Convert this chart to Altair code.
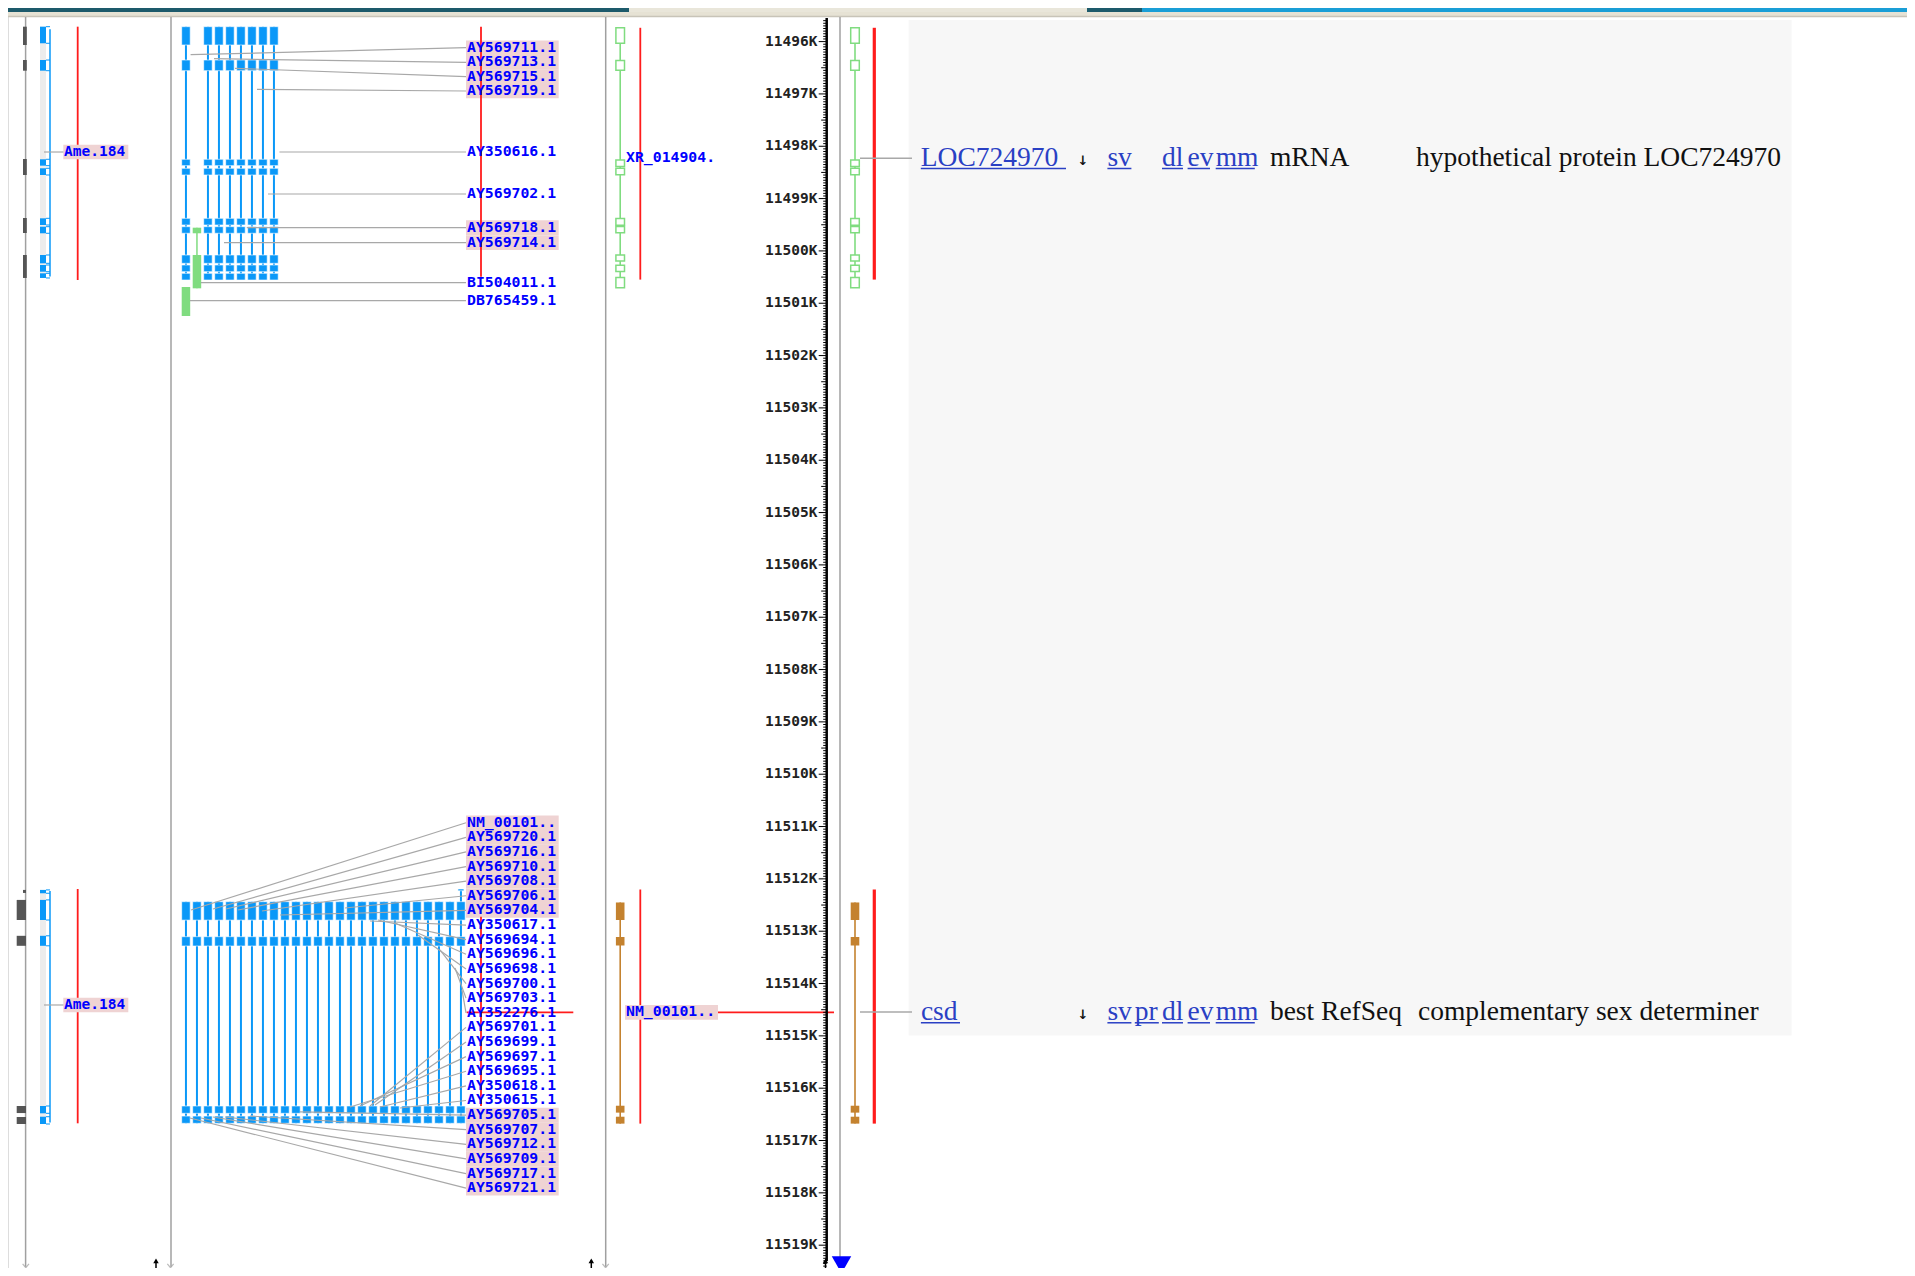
import altair as alt
import pandas as pd

# ====================== DATA (genome positions in kb) ======================
axis_ticks_k = [11496, 11497, 11498, 11499, 11500, 11501, 11502, 11503, 11504, 11505,
                11506, 11507, 11508, 11509, 11510, 11511, 11512, 11513, 11514, 11515,
                11516, 11517, 11518, 11519]

# LOC724970 (XR_014904.) exons
loc_exon_start = [11495.736, 11496.359, 11498.263, 11498.419, 11499.379, 11499.533, 11500.078, 11500.275, 11500.510]
loc_exon_end = [11496.032, 11496.547, 11498.387, 11498.544, 11499.510, 11499.652, 11500.193, 11500.391, 11500.705]
# csd (NM_00101..) exons
csd_exon_start = [11512.451, 11513.111, 11516.335, 11516.545]
csd_exon_end = [11512.786, 11513.273, 11516.467, 11516.677]

# EST / mRNA alignments, upper cluster
est_up_start = [11495.715, 11496.352, 11498.249, 11498.421, 11499.377, 11499.537, 11500.078, 11500.269, 11500.428]
est_up_end = [11496.065, 11496.556, 11498.371, 11498.549, 11499.505, 11499.663, 11500.237, 11500.397, 11500.556]
# EST / mRNA alignments, lower cluster
est_low_start = [11512.436, 11513.105, 11516.340, 11516.532]
est_low_end = [11512.788, 11513.283, 11516.480, 11516.671]
est706_extra = [11512.193, 11512.255]
bi504011_start = [11499.556, 11500.078]
bi504011_end = [11499.663, 11500.715]
db765459_start = [11500.690]
db765459_end = [11501.244]

# Ame.184 predictions
ame_up_start = [11495.715, 11496.352, 11498.249, 11498.421, 11499.377, 11499.537, 11500.078, 11500.269, 11500.428]
ame_up_end = [11496.032, 11496.556, 11498.371, 11498.549, 11499.505, 11499.663, 11500.237, 11500.397, 11500.517]
ame_low_start = [11512.211, 11512.402, 11513.088, 11516.340, 11516.545]
ame_low_end = [11512.275, 11512.786, 11513.279, 11516.480, 11516.684]
ame_labels = ["Ame.184", "Ame.184"]
ame_label_k = [11498.110, 11514.410]

# neighbouring (clipped) track blocks
gray_up_start = [11495.715, 11496.352, 11498.243, 11499.371, 11500.078]
gray_up_end = [11496.065, 11496.556, 11498.549, 11499.658, 11500.517]
gray_low_start = [11512.211, 11512.402, 11513.088, 11516.340, 11516.550]
gray_low_end = [11512.269, 11512.786, 11513.279, 11516.475, 11516.684]

# red marker spans
red_col1 = [[11495.715, 11500.556], [11512.193, 11516.671]]
red_col2 = [[11495.715, 11500.493], [11512.723, 11516.340]]
red_gene = [[11495.736, 11500.548], [11512.203, 11516.677]]
red_hline_k = 11514.551

upper_labels = ["AY569711.1", "AY569713.1", "AY569715.1", "AY569719.1", "AY350616.1",
                "AY569702.1", "AY569718.1", "AY569714.1", "BI504011.1", "DB765459.1"]
upper_label_k = [11496.117, 11496.396, 11496.671, 11496.944, 11498.110,
                 11498.912, 11499.555, 11499.842, 11500.607, 11500.951]
upper_label_pink = [True, True, True, True, False, False, True, True, False, False]
upper_attach_k = [11496.250, 11496.327, 11496.510, 11496.912, 11498.110,
                  11498.912, 11499.555, 11499.842, 11500.607, 11500.951]

lower_labels = ["NM_00101..", "AY569720.1", "AY569716.1", "AY569710.1", "AY569708.1", "AY569706.1",
                "AY569704.1", "AY350617.1", "AY569694.1", "AY569696.1", "AY569698.1", "AY569700.1",
                "AY569703.1", "AY352276.1", "AY569701.1", "AY569699.1", "AY569697.1", "AY569695.1",
                "AY350618.1", "AY350615.1", "AY569705.1", "AY569707.1", "AY569712.1", "AY569709.1",
                "AY569717.1", "AY569721.1"]
lower_label_k = [11510.927, 11511.206, 11511.485, 11511.765, 11512.044, 11512.323, 11512.603,
                 11512.882, 11513.162, 11513.441, 11513.721, 11514.000, 11514.279, 11514.559,
                 11514.838, 11515.117, 11515.397, 11515.676, 11515.955, 11516.235, 11516.514,
                 11516.793, 11517.073, 11517.352, 11517.632, 11517.911]
lower_label_pink = [True] * 7 + [False] * 13 + [True] * 6
lower_attach_k = [11512.595, 11512.576, 11512.576, 11512.595, 11512.614, 11512.557, 11512.690,
                  11512.805, 11512.786, 11512.843, 11513.072, 11513.359, 11513.703, 11514.123,
                  11516.340, 11516.320, 11516.340, 11516.359, 11516.359, 11516.378,
                  11516.454, 11516.531, 11516.550, 11516.550, 11516.569, 11516.569]

gene_track_labels = ["XR_014904.", "NM_00101.."]
gene_track_label_k = [11498.225, 11514.551]
gene_track_label_pink = [False, True]

row_baseline_k = [11498.372, 11514.697]
row_underline_k = [11498.425, 11514.750]
row_connector_k = [11498.230, 11514.545]
row1_texts = ["LOC724970", "sv", "dl", "ev", "mm", "mRNA", "hypothetical protein LOC724970"]
row1_link = [True, True, True, True, True, False, False]
row2_texts = ["csd", "sv", "pr", "dl", "ev", "mm", "best RefSeq", "complementary sex determiner"]
row2_link = [True, True, True, True, True, True, False, False]

# ====================== LAYOUT (page pixels) ======================
Y_TOP, Y_BOT = 11495.358, 11519.436
X_LEFT, X_RIGHT = 8, 1907
COL0, COLSTEP, COLHALF = 185.95, 11.0, 4.25
AXIS_X = 826.7
upper_cols = [0, 2, 3, 4, 5, 6, 7, 8]
upper_attach_x = [190.6, 214, 235, 257, 279.4, 268, 246.8, 224, 201, 190]
lower_attach_x = [191, 213, 226, 238, 262, 345, 280,
                  370, 378, 395, 418, 440, 455, 462,
                  370, 375, 360, 350, 380, 400,
                  300, 250, 225, 213, 201, 190]
row1_x = [920.8, 1107.4, 1162, 1187.6, 1215.7, 1269.9, 1416]
row1_x_end = [1066, 1131.4, 1183, 1210, 1254.8, None, None]
row2_x = [920.9, 1107.4, 1134.8, 1162, 1187.6, 1215.7, 1269.9, 1418]
row2_x_end = [960, 1131.4, 1158.8, 1183, 1210, 1254.8, None, None]

BLUE = "#0a98f8"
GREEN = "#80dc80"
BROWN = "#c4822f"
RED = "#ff1c1c"
PINK = "#efd3d3"
LEAD = "#a8a8a8"
LINK = "#2a40c4"

XS = alt.Scale(domain=[X_LEFT, X_RIGHT], nice=False, zero=False)
YS = alt.Scale(domain=[Y_TOP, Y_BOT], reverse=True, nice=False, zero=False)


def ex(f):
    return alt.X(f, type="quantitative", scale=XS, axis=None)


def ey(f):
    return alt.Y(f, type="quantitative", scale=YS, axis=None)


def rects(rows, **kw):
    df = pd.DataFrame(rows, columns=["x1", "x2", "y1", "y2", "c"])
    return alt.Chart(df).mark_rect(**kw).encode(
        x=ex("x1"), x2="x2:Q", y=ey("y1"), y2="y2:Q", color=alt.Color("c:N", scale=None))


def rules(rows, **kw):
    df = pd.DataFrame(rows, columns=["x1", "x2", "y1", "y2", "c"])
    return alt.Chart(df).mark_rule(**kw).encode(
        x=ex("x1"), x2="x2:Q", y=ey("y1"), y2="y2:Q", color=alt.Color("c:N", scale=None))


def texts(rows, **kw):
    df = pd.DataFrame(rows, columns=["x", "y", "t", "c"])
    return alt.Chart(df).mark_text(**kw).encode(
        x=ex("x"), y=ey("y"), text="t:N", color=alt.Color("c:N", scale=None))


def points(rows, **kw):
    df = pd.DataFrame(rows, columns=["x", "y", "c"])
    return alt.Chart(df).mark_point(**kw).encode(
        x=ex("x"), y=ey("y"), color=alt.Color("c:N", scale=None))


layers = []

# window chrome strip at the very top
layers.append(rects([
    [8, 629, Y_TOP, 11495.434, "#1d5a6b"],
    [629, 1087, Y_TOP, 11495.434, "#e9e6da"],
    [1087, 1142, Y_TOP, 11495.434, "#1d5a6b"],
    [1142, 1907, Y_TOP, 11495.434, "#1a9ed6"],
    [8, 1907, 11495.434, 11495.511, "#e6e2d4"],
]))
layers.append(rules([[8, 1907, 11495.520, 11495.520, "#c8c4b8"]], strokeWidth=1.5))

# right panel background
layers.append(rects([[908.6, 1791.6, 11495.587, 11514.995, "#f7f7f7"]]))

# track separators
sep_x = [25.6, 171, 605.7, 840]
layers.append(rules([[x, x, 11495.530, 11519.410, "#a0a0a0"] for x in sep_x], strokeWidth=1.5))

# clipped neighbouring track blocks
g = [[23, 26.8, s, e, "#555555"] for s, e in zip(gray_up_start, gray_up_end)]
g += [[23 if i == 0 else 16.7, 26.0, s, e, "#555555"] for i, (s, e) in enumerate(zip(gray_low_start, gray_low_end))]
layers.append(rects(g))

# Ame.184 gene predictions
strip = [[40, 46, ame_up_start[0], ame_up_end[-1], "#ececec"],
         [40, 46, ame_low_start[0], ame_low_end[-1], "#ececec"]]
layers.append(rects(strip))
layers.append(rules([[50, 50, ame_up_start[0] + 0.05, ame_up_end[-1] - 0.03, BLUE],
                     [50, 50, ame_low_start[0] + 0.02, ame_low_end[-1] - 0.03, BLUE]], strokeWidth=1.5))
stubs = []
for s, e in list(zip(ame_up_start, ame_up_end)) + list(zip(ame_low_start, ame_low_end)):
    stubs.append([46, 50, s, s, BLUE])
    stubs.append([46, 50, e, e, BLUE])
layers.append(rules(stubs, strokeWidth=1))
ame_ex = [[40, 46, s, e, BLUE] for s, e in zip(ame_up_start, ame_up_end)]
ame_ex += [[40, 46, s, e, BLUE] for s, e in zip(ame_low_start, ame_low_end)]
layers.append(rects(ame_ex))
layers.append(rules([[77.7, 77.7, a, b, RED] for a, b in red_col1], strokeWidth=1.8))
layers.append(rules([[44, 64, k, k, LEAD] for k in ame_label_k], strokeWidth=1.2))
layers.append(rects([[63.3, 128.3, k - 0.14, k + 0.14, PINK] for k in ame_label_k]))
layers.append(texts([[64, k, t, "#0000ff"] for t, k in zip(ame_labels, ame_label_k)],
                    font="DejaVu Sans Mono", fontSize=14.5, fontWeight="bold", align="left", baseline="middle"))

# EST / mRNA columns
intr, exs = [], []
for ci in upper_cols:
    c = COL0 + COLSTEP * ci
    intr.append([c, c, est_up_start[0], est_up_end[-1], BLUE])
    exs += [[c - COLHALF, c + COLHALF, s, e, BLUE] for s, e in zip(est_up_start, est_up_end)]
for ci in range(len(lower_labels)):
    c = COL0 + COLSTEP * ci
    top = est706_extra[0] if ci == len(lower_labels) - 1 else est_low_start[0]
    intr.append([c, c, top, est_low_end[-1], BLUE])
    exs += [[c - COLHALF, c + COLHALF, s, e, BLUE] for s, e in zip(est_low_start, est_low_end)]
    if ci == len(lower_labels) - 1:
        exs.append([c - 3, c + 3, est706_extra[0], est706_extra[0] + 0.035, BLUE])
layers.append(rules(intr, strokeWidth=2))
layers.append(rects(exs, stroke="white", strokeWidth=0.6))
cb = COL0 + COLSTEP * 1
layers.append(rules([[cb, cb, bi504011_start[0], bi504011_end[-1], GREEN]], strokeWidth=1.5))
greens = [[cb - COLHALF, cb + COLHALF, s, e, GREEN] for s, e in zip(bi504011_start, bi504011_end)]
c0 = COL0
greens += [[c0 - COLHALF, c0 + COLHALF, s, e, GREEN] for s, e in zip(db765459_start, db765459_end)]
layers.append(rects(greens))

# leader lines
leads = [[466, ax, k, ak, LEAD] for k, ax, ak in zip(upper_label_k, upper_attach_x, upper_attach_k)]
leads += [[466, ax, k, ak, LEAD] for k, ax, ak in zip(lower_label_k, lower_attach_x, lower_attach_k)]
layers.append(rules(leads, strokeWidth=1.2))

# label pink backgrounds
pinks = [[466, 558.7, k - 0.14, k + 0.14, PINK] for k, p in zip(upper_label_k, upper_label_pink) if p]
pinks += [[466, 558.7, k - 0.14, k + 0.14, PINK] for k, p in zip(lower_label_k, lower_label_pink) if p]
layers.append(rects(pinks))

# red markers in EST track
layers.append(rules([[481, 481, a, b, RED] for a, b in red_col2], strokeWidth=1.8))
layers.append(rules([[466.7, 573.3, red_hline_k, red_hline_k, RED],
                     [717.7, 834, red_hline_k, red_hline_k, RED]], strokeWidth=1.8))

# EST labels
lab = [[467, k, t, "#0000ff"] for t, k in zip(upper_labels, upper_label_k)]
lab += [[467, k, t, "#0000ff"] for t, k in zip(lower_labels, lower_label_k)]
layers.append(texts(lab, font="DejaVu Sans Mono", fontSize=14.8, fontWeight="bold",
                    align="left", baseline="middle"))


# gene models (RefSeq track and right track)
def gene_model(cx, starts, ends, color, hollow):
    out = [rules([[cx, cx, starts[0], ends[-1], color]], strokeWidth=1.6)]
    rows = [[cx - 4.3, cx + 4.3, s, e, color] for s, e in zip(starts, ends)]
    if hollow:
        df = pd.DataFrame(rows, columns=["x1", "x2", "y1", "y2", "c"])
        out.append(alt.Chart(df).mark_rect(fill="white", stroke=color, strokeWidth=1.5).encode(
            x=ex("x1"), x2="x2:Q", y=ey("y1"), y2="y2:Q"))
    else:
        out.append(rects(rows))
    return out


for cx in (620.2, 855.0):
    layers += gene_model(cx, loc_exon_start, loc_exon_end, GREEN, True)
    layers += gene_model(cx, csd_exon_start, csd_exon_end, BROWN, False)
layers.append(rules([[640.3, 640.3, a, b, RED] for a, b in red_gene], strokeWidth=1.8))
layers.append(rules([[874.3, 874.3, a, b, RED] for a, b in red_gene], strokeWidth=3.2))
layers.append(rects([[625, 718, k - 0.14, k + 0.14, PINK]
                     for k, p in zip(gene_track_label_k, gene_track_label_pink) if p]))
layers.append(texts([[626, k, t, "#0000ff"] for t, k in zip(gene_track_labels, gene_track_label_k)],
                    font="DejaVu Sans Mono", fontSize=14.8, fontWeight="bold", align="left", baseline="middle"))

# coordinate ruler: line, ticks (every 50 bp, longer each 500 bp and kb) and kb labels
layers.append(rules([[AXIS_X, AXIS_X, 11495.549, 11519.300, "black"]], strokeWidth=2.5))
tick_rows = []
for i in range(477):
    v = round(11495.6 + 0.05 * i, 2)
    if abs(v - round(v)) < 1e-6:
        ln = 8
    elif abs(v * 2 - round(v * 2)) < 1e-6:
        ln = 5.5
    else:
        ln = 3.5
    tick_rows.append([AXIS_X - ln, AXIS_X, v, v, "black"])
layers.append(rules(tick_rows, strokeWidth=1))
layers.append(texts([[817.5, k, f"{k}K", "#222222"] for k in axis_ticks_k],
                    font="DejaVu Sans Mono", fontSize=14.5, fontWeight="bold",
                    align="right", baseline="middle"))

# right track connectors and text table
layers.append(rules([[860, 912, k, k, "#a8a8a8"] for k in row_connector_k], strokeWidth=1.5))
rt = []
ul = []
for (tx, xs_, xe_, lk, kb, ku) in [(row1_texts, row1_x, row1_x_end, row1_link, row_baseline_k[0], row_underline_k[0]),
                                   (row2_texts, row2_x, row2_x_end, row2_link, row_baseline_k[1], row_underline_k[1])]:
    for t, x0, x1, isl in zip(tx, xs_, xe_, lk):
        rt.append([x0, kb, t, LINK if isl else "#111111"])
        if isl:
            ul.append([x0, x1, ku, ku, LINK])
layers.append(texts(rt, font="Liberation Serif", fontSize=27.5, align="left", baseline="alphabetic"))
layers.append(rules(ul, strokeWidth=1.5))
layers.append(texts([[1083, kb - 0.02, "↓", "#111111"] for kb in row_baseline_k],
                    font="DejaVu Sans", fontSize=13, fontWeight="bold", align="center", baseline="alphabetic"))

# bottom arrows
layers.append(points([[x, 11519.395, "#a0a0a0"] for x in (25.8, 170.5, 605.6)],
                     shape="M-1,-0.6L0,0.6L1,-0.6", filled=False, strokeWidth=1.2, size=40))
layers.append(rules([[x, x, 11519.283, Y_BOT, "black"] for x in (156, 591.3, 825.5)], strokeWidth=1.5))
layers.append(points([[x, 11519.300, "black"] for x in (156, 591.3, 825.5)],
                     shape="triangle-up", filled=True, size=30, opacity=1))
layers.append(points([[841.5, 11519.375, "#0000ff"]], shape="triangle-down", filled=True, size=380, opacity=1))

chart = alt.layer(*layers).properties(
    width=X_RIGHT - X_LEFT, height=1260, padding=0,
    autosize=alt.AutoSizeParams(type="none"),
).configure_view(strokeWidth=0).configure(background="white")

chart.save("out.html", embed_options={"renderer": "svg", "actions": False})
